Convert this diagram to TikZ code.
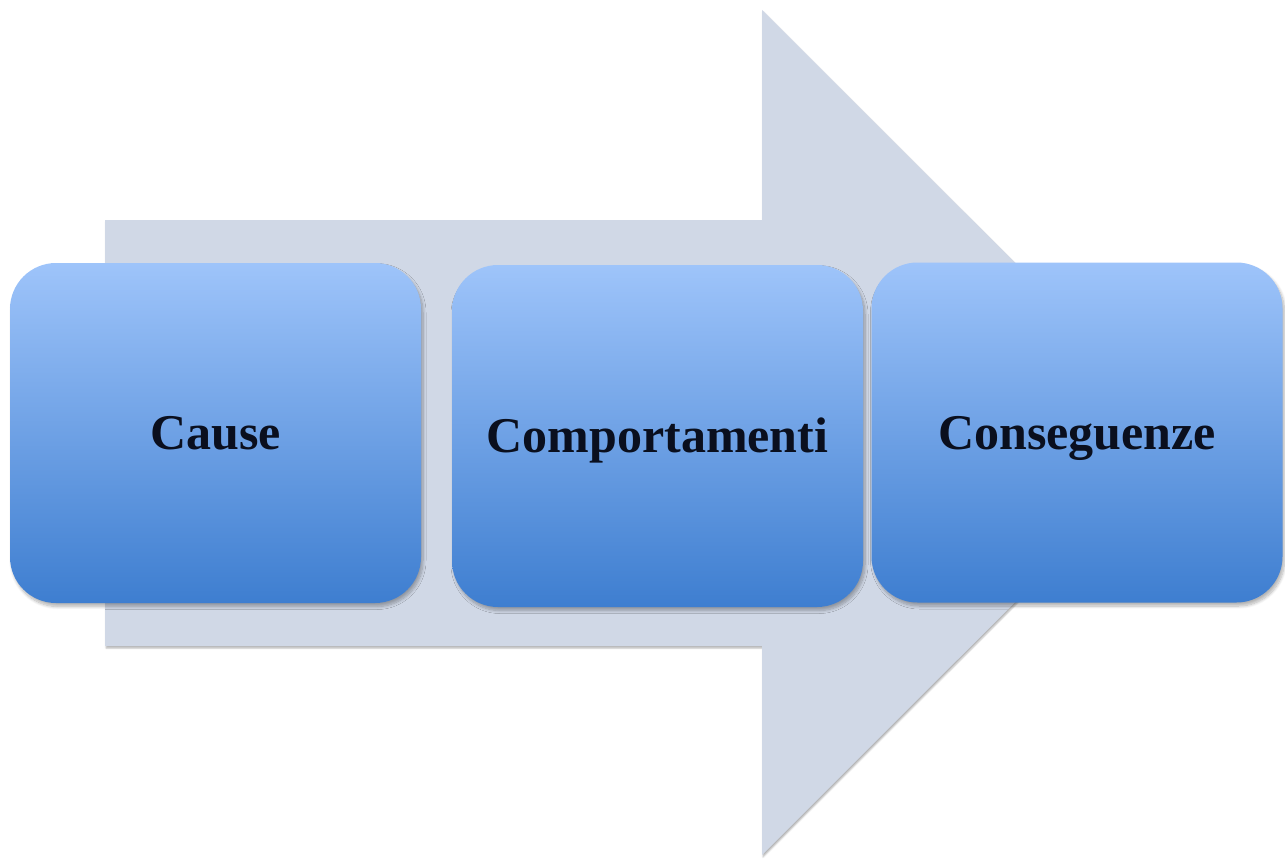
\documentclass[tikz,border=0pt]{standalone}
\usepackage{fontspec}
\setmainfont{Liberation Serif}
\usetikzlibrary{shadows.blur}
\definecolor{arrowfill}{HTML}{D0D8E6}
\definecolor{boxtop}{HTML}{9EC4FA}
\definecolor{boxbot}{HTML}{3E7ED0}
\definecolor{labeltext}{HTML}{0A0F1E}
\begin{document}
\begin{tikzpicture}[x=1pt,y=-1pt,
  stagebox/.style={rounded corners=46pt, minimum width=411pt, minimum height=340pt,
    top color=boxtop, bottom color=boxbot, draw=none, inner sep=0pt,
    text height=33pt, text depth=0pt, text=labeltext,
    font=\bfseries\fontsize{50}{50}\selectfont,
    blur shadow={shadow xshift=2pt, shadow yshift=-3.5pt, shadow blur radius=3pt,
      shadow blur steps=8, shadow opacity=30}},
  bigarrow/.style={fill=arrowfill,
    blur shadow={shadow xshift=1pt, shadow yshift=-2pt, shadow blur radius=1.5pt,
      shadow opacity=30}}]
\useasboundingbox (0,0) rectangle (1285,859);
% broad background arrow
\path[bigarrow] (105,220) -- (762,220) -- (762,10) -- (1185,432.5)
  -- (762,855) -- (762,646) -- (105,646) -- cycle;
% the three stages
\node[stagebox] (cause) at (215.5,433) {Cause};
\node[stagebox, minimum height=342pt] (comport) at (657.5,436) {Comportamenti};
\node[stagebox] (conseq) at (1077,432.5) {Conseguenze};
\end{tikzpicture}
\end{document}
